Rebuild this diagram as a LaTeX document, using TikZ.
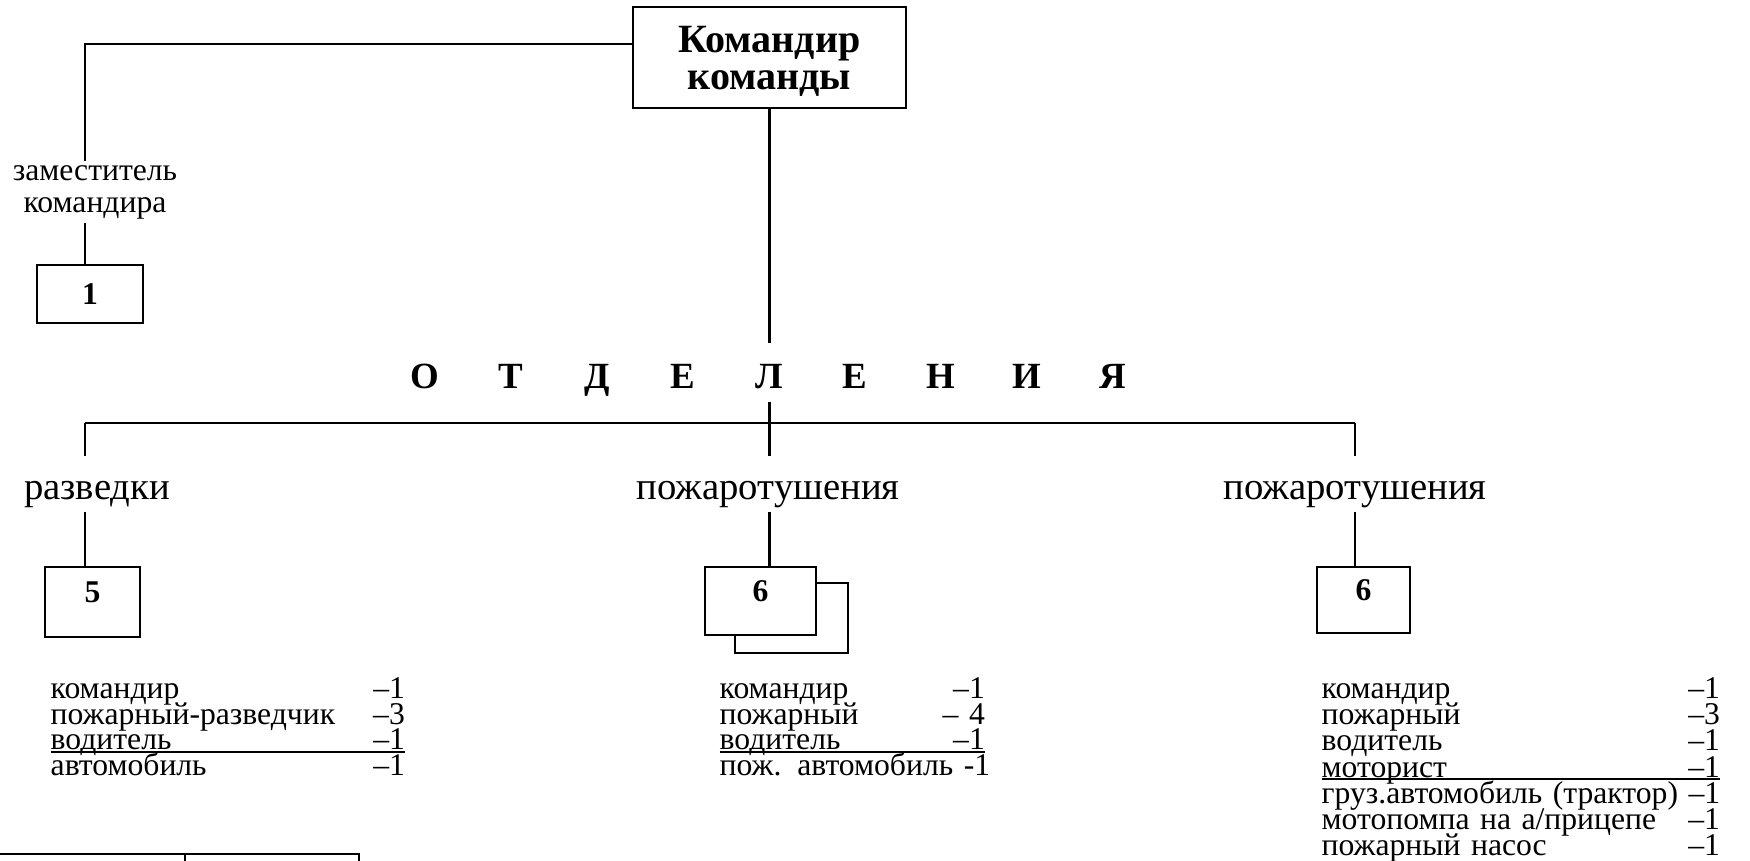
\documentclass[tikz,border=0pt]{standalone}
\usepackage{fontspec}
\setmainfont{Liberation Serif}
\usepackage{tikz}
\usetikzlibrary{positioning, backgrounds, calc}
\newcommand\tightrows{\lineskiplimit=-20pt\relax}
\newcommand\ruledrow[1]{\leavevmode\rlap{\rule[-0.9pt]{#1}{0.7pt}}}
\tikzset{
    chief/.style={rectangle, draw, line width=0.8pt, minimum width=2.73cm, minimum height=1.01cm, align=center, text height=19.9pt, font=\fontsize{11.4}{10.5}\selectfont\bfseries},
    unit/.style={rectangle, draw, line width=0.8pt, fill=white, inner sep=0pt, font=\fontsize{9}{9}\selectfont\bfseries},
    link/.style={line width=0.8pt},
}

\begin{document}
\begin{tikzpicture}[x=0.01cm, y=-0.01cm,
    branch/.style={fill=white, inner xsep=2pt, inner ysep=0pt, text height=0.44cm, text depth=0.12cm, anchor=base, font=\fontsize{11}{11}\selectfont},
    letter/.style={fill=white, inner xsep=1pt, inner ysep=0pt, text height=0.46cm, text depth=0.13cm, anchor=base, font=\fontsize{10.5}{10.5}\selectfont\bfseries},
    staff/.style={anchor=north west, inner sep=0pt, align=left, font=\fontsize{9}{7.3}\selectfont\tightrows},
]
    \useasboundingbox (0,0) rectangle (1750,861);
    % Chief and deputy
    \node [chief] (boss) at (769.5,57.5) {Командир\\команды};
    \node [fill=white, inner xsep=2pt, inner ysep=0.04cm, align=center, font=\fontsize{9}{9.1}\selectfont] (zam) at (95,192) {заместитель\\командира};
    \node [unit, minimum width=1.06cm, minimum height=0.58cm] (one) at (90,294) {1};
    \coordinate (zamcol) at (85,188);
    % Heading: letters spread over the branch
    \foreach \ch [count=\i] in {О,Т,Д,Е,Л,Е,Н,И,Я}
        \node [letter] (otd\i) at ({769+(\i-5)*86},389) {\ch};
    % Branch labels
    \coordinate (brL) at (85,423);
    \coordinate (brR) at (1355,423);
    \node [branch] (razv) at (97,500) {разведки};
    \node [branch] (pozA) at (768,500) {пожаротушения};
    \node [branch] (pozB) at (1355,500) {пожаротушения};
    % Unit boxes
    \node [unit, text depth=0.19cm, minimum width=0.95cm, minimum height=0.70cm] (five) at (92.5,602) {5};
    \node [unit, minimum width=1.13cm, minimum height=0.70cm] (sixback) at (791.5,618) {};
    \node [unit, text depth=0.19cm, minimum width=1.11cm, minimum height=0.68cm] (sixA) at (760.5,601) {6};
    \node [unit, text depth=0.19cm, minimum width=0.93cm, minimum height=0.66cm] (sixB) at (1363.5,600) {6};
    % Staff lists
    \node [staff, text width=3.54cm] (listR) at (50,677) {командир\hfill –1\\
        пожарный-разведчик\hfill –3\\
        \ruledrow{3.54cm}водитель\hfill –1\\
        автомобиль\hfill –1};
    \node [staff, text width=2.65cm] (listA) at (719,677) {командир\hfill –1\\
        пожарный\hfill – 4\\
        \ruledrow{2.65cm}водитель\hfill –1\\
        \makebox[\linewidth][s]{пож. автомобиль -1}};
    \node [staff, text width=3.98cm, font=\fontsize{9}{7.45}\selectfont\tightrows] (listB) at (1321,677) {командир\hfill –1\\
        пожарный\hfill –3\\
        водитель\hfill –1\\
        \ruledrow{3.98cm}моторист\hfill –1\\
        \makebox[\linewidth][s]{груз.автомобиль (трактор) –1}\\
        мотопомпа на а/прицепе\hfill –1\\
        пожарный насос\hfill –1};
    % Connectors behind the labels
    \begin{scope}[on background layer]
        \draw [link] ([yshift=0.135cm]boss.west) -| (zamcol) -- (zamcol |- one.north);
        \draw [link] (boss.south) -- (boss.south |- sixA.north);
        \draw [link] (brL) -- (brR);
        \draw [link] (brL) -- (brL |- five.north);
        \draw [link] (brR) -- (brR |- sixB.north);
    \end{scope}
    % Top of the table below
    \draw [link] (0,854) -- (359,854) -- (359,861);
    \draw [link] (185,854) -- (185,861);
\end{tikzpicture}
\end{document}
